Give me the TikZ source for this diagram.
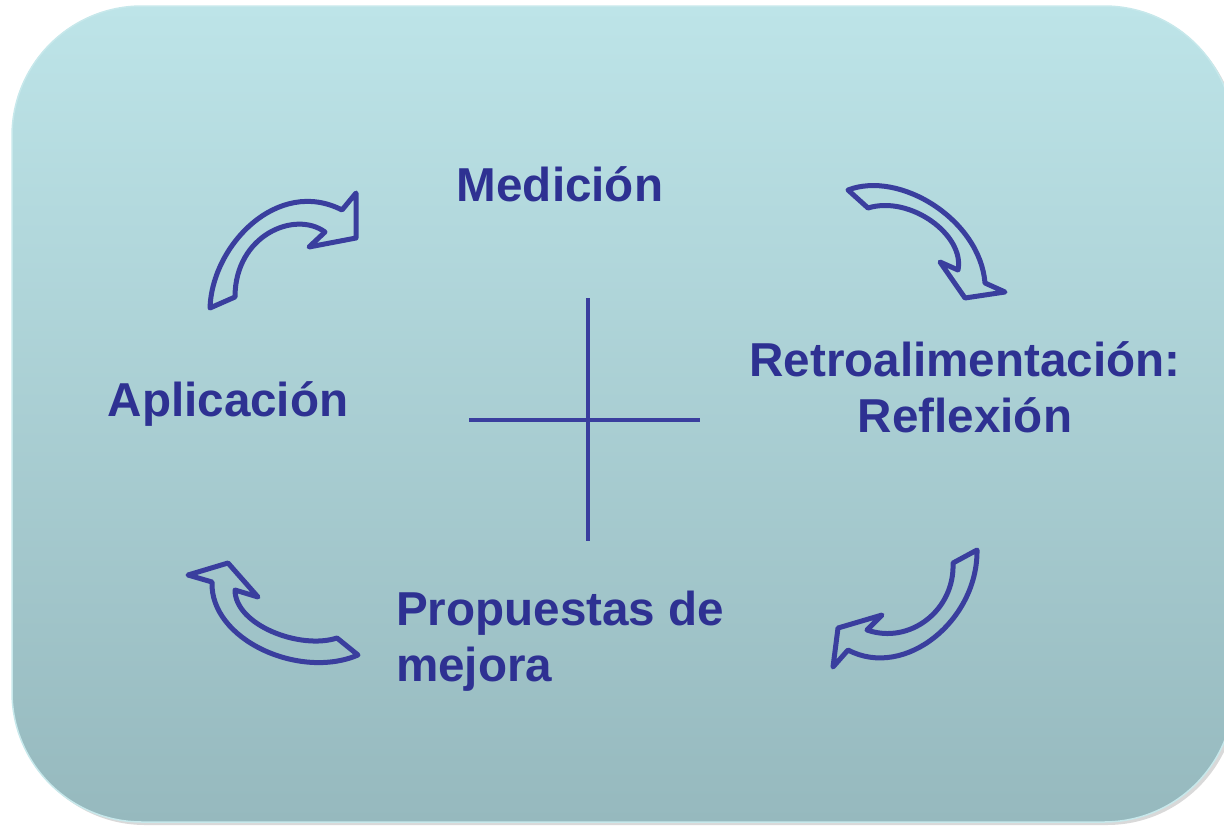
\documentclass[tikz,border=0pt]{standalone}
\usepackage{fontspec}
\setmainfont{Liberation Sans}
\usetikzlibrary{shadows}
\definecolor{textblue}{RGB}{46,49,146}
\definecolor{lineblue}{RGB}{58,62,158}
\definecolor{bgtop}{RGB}{189,228,232}
\definecolor{bgbottom}{RGB}{150,185,190}
\tikzset{
  card/.style       = {draw=bgtop!85!white, line width=1.5pt,
                       rounded corners=130pt,
                       top color=bgtop, bottom color=bgbottom},
  stage/.style      = {font=\bfseries\fontsize{47.6}{56}\selectfont,
                       text=textblue, inner sep=0pt},
  cyclearrow/.style = {draw=lineblue, line width=5pt, line join=round},
  crossline/.style  = {draw=lineblue, line width=4pt}
}

\begin{document}
\begin{tikzpicture}[x=1pt,y=-1pt]
 \useasboundingbox (0,0) rectangle (1224,825);

 % background card
 \path[card, drop shadow={shadow xshift=3pt, shadow yshift=-3pt, opacity=0.3}]
   (12,6) rectangle (1234,822);

 % the four stages
 \node[stage, anchor=base] (medicion) at (560,201) {Medición};
 \node[stage, anchor=base, align=center] (retro) at (965,432)
   {Retroalimentación:\\Reflexión};
 \node[stage, anchor=base] (aplicacion) at (228,416) {Aplicación};
 \node[stage, anchor=base west, align=left] (propuestas) at (396,681)
   {Propuestas de\\mejora};

 % cross in the middle
 \coordinate (vtop)   at (588,298);
 \coordinate (vbot)   at (588,541);
 \coordinate (hleft)  at (469,420);
 \coordinate (hright) at (700,420);
 \draw[crossline] (vtop) -- (vbot);
 \draw[crossline] (hleft) -- (hright);

 % curved arrows, clockwise
 \draw[cyclearrow] (210,308) .. controls (212,245) and (278,177) .. (342,210)
   -- (356,193) -- (356,238) -- (309,247) -- (325,232)
   .. controls (295,210) and (235,235) .. (235,297) -- cycle;
 \draw[cyclearrow] (848,190) .. controls (900,170) and (980,220) .. (985,283)
   -- (1005,292) -- (965,298) -- (940,262) -- (958,270)
   .. controls (965,235) and (910,195) .. (868,208) -- cycle;
 \draw[cyclearrow] (977,550) .. controls (978,620) and (905,680) .. (848,650)
   -- (833,667) -- (838,628) -- (882,615) -- (867,630)
   .. controls (910,645) and (955,610) .. (953,563) -- cycle;
 \draw[cyclearrow] (358,655) .. controls (300,680) and (210,640) .. (212,582)
   -- (188,575) -- (228,563) -- (258,597) -- (235,590)
   .. controls (235,625) and (300,650) .. (337,638) -- cycle;
\end{tikzpicture}
\end{document}
